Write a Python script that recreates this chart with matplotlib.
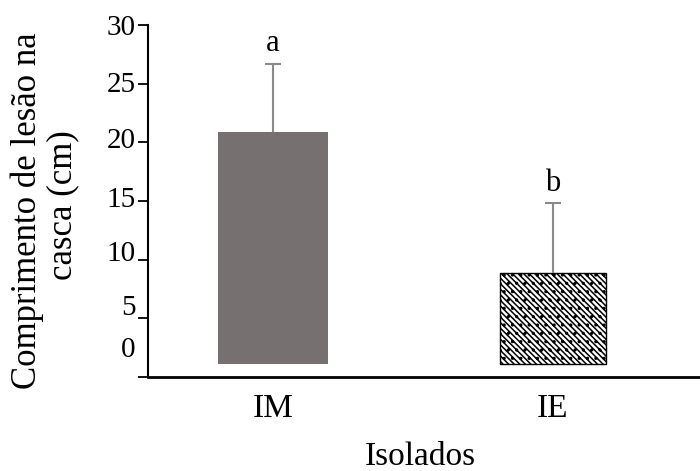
import numpy as np
import matplotlib
matplotlib.use('Agg')
import matplotlib.pyplot as plt
import matplotlib.transforms as mtransforms

# dados
isolados = ['IM', 'IE']
medias = [20.9, 8.9]
desvios = [5.8, 5.9]
letras = ['a', 'b']
yticks = [0, 5, 10, 15, 20, 25, 30]

base = 1.1  # as barras nao encostam no eixo
plt.rcParams['font.family'] = ['Liberation Serif', 'DejaVu Serif']
plt.rcParams['hatch.linewidth'] = 1.1
plt.rcParams['hatch.color'] = '#4a4a4a'

fig = plt.figure(figsize=(7.0, 4.71), dpi=100)
ax = fig.add_axes([148/700, 94/471, 552/700, 352/471])

x = np.arange(len(isolados))
alturas = [m - base for m in medias]
ax.bar(x[0], alturas[0], bottom=base, width=0.395, color='#767170', edgecolor='none')
ax.bar(x[1], alturas[1], bottom=base, width=0.38, color='white',
       edgecolor='black', linewidth=1.0, hatch='\\\\\\\\\\\\..')
eb = ax.errorbar(x, medias, yerr=[[0, 0], desvios], fmt='none', ecolor='#8a8a8a',
                 elinewidth=1.5, capsize=6, capthick=1.5)
# so a barra de erro de cima tem tampa
eb[1][0].set_visible(False)

for i in range(len(isolados)):
    ax.annotate(letras[i], (x[i], medias[i] + desvios[i]), xytext=(0, 4),
                textcoords='offset points', ha='center', va='bottom', fontsize=22)

ax.set_xlim(-0.446, 1.525)
ax.set_ylim(0, 30)
ax.set_yticks(yticks)
ax.set_xticks(x)
ax.set_xticklabels(isolados, fontsize=24)
ax.tick_params(axis='x', length=0, pad=12)
ax.tick_params(axis='y', length=7, width=1.3, labelsize=21, pad=2)
for s in ['top', 'right']:
    ax.spines[s].set_visible(False)
ax.spines['left'].set_linewidth(1.5)
ax.spines['bottom'].set_linewidth(2)

# os rotulos do eixo y ficam um pouco acima das marcas
desloc = [30, 13, 9, 4, 4, 2, 0]
for lab, d in zip(ax.get_yticklabels(), desloc):
    lab.set_transform(lab.get_transform() + mtransforms.ScaledTranslation(0, d/100, fig.dpi_scale_trans))

fig.text(27/700, 1 - 211/471, 'Comprimento de lesão na', rotation=90,
         ha='center', va='center', fontsize=25)
fig.text(63/700, 1 - 205/471, 'casca (cm)', rotation=90,
         ha='center', va='center', fontsize=25)
fig.text(420/700, 1 - 457/471, 'Isolados', ha='center', va='center', fontsize=24)

fig.savefig('out.png', dpi=100)
